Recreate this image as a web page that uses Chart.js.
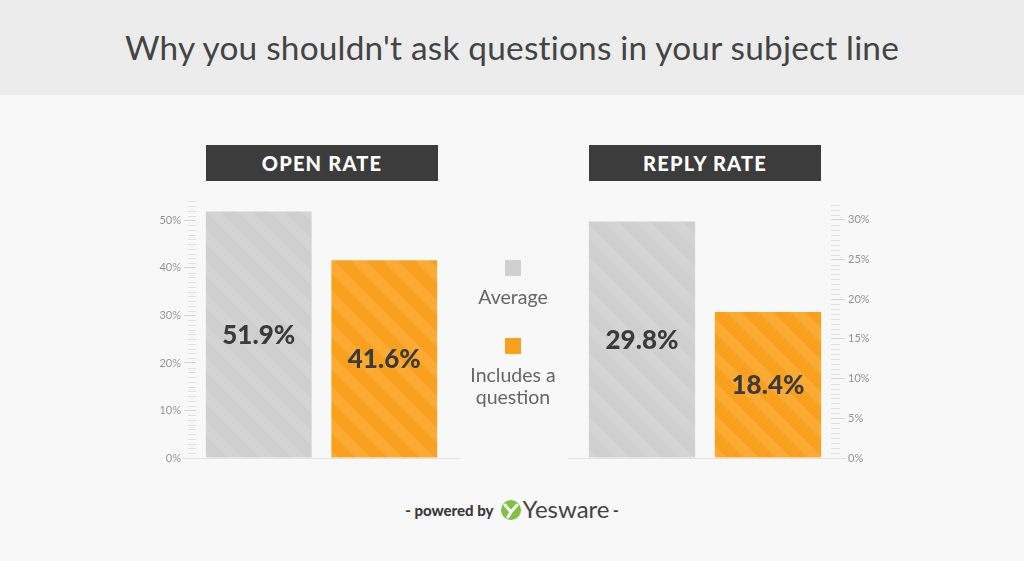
<!DOCTYPE html>
<html>
<head>
<meta charset="utf-8">
<script src="https://cdn.jsdelivr.net/npm/chart.js@4/dist/chart.umd.min.js"></script>
<style>
  body { margin: 0; width: 1024px; height: 561px; overflow: hidden; background: #f9f8f8; font-family: Lato, sans-serif; position: relative; }
  .band { position: absolute; left: 0; top: 0; width: 1024px; height: 95px; background: #ececec; }
  .title { position: absolute; left: 0; top: 0; width: 1024px; line-height: 95px; text-align: center; font-size: 33.4px; color: #444; letter-spacing: 0.2px; }
  .head { position: absolute; top: 145px; width: 232px; height: 36px; line-height: 36px; background: #3c3c3c; color: #fff; text-align: center; font-weight: 900; font-size: 20px; letter-spacing: 1.2px; }
  canvas { position: absolute; }
  .sq { position: absolute; left: 505px; width: 16px; height: 16px; }
  .lg { position: absolute; left: 430px; width: 166px; text-align: center; font-size: 19.5px; color: #666; line-height: 22px; }
  .foot { position: absolute; top: 495px; left: 0; width: 1024px; text-align: center; font-size: 15px; font-weight: 900; color: #3a3a3a; line-height: 28px; }
  .foot svg { vertical-align: -5px; margin: 0 1px 0 6px; }
  .ys { font-size: 24px; font-weight: 400; color: #444; vertical-align: -2px; }
</style>
</head>
<body>
<div class="band"></div>
<div class="title">Why you shouldn't ask questions in your subject line</div>
<div class="head" style="left:206px">OPEN RATE</div>
<div class="head" style="left:589px">REPLY RATE</div>
<canvas id="openChart" width="360" height="290" style="left:120px;top:190px;width:360px;height:290px"></canvas>
<canvas id="replyChart" width="360" height="290" style="left:540px;top:190px;width:360px;height:290px"></canvas>
<div class="sq" style="top:260px;background:#d0d0d0"></div>
<div class="lg" style="top:286px">Average</div>
<div class="sq" style="top:338px;background:#f9a11e"></div>
<div class="lg" style="top:364px">Includes a<br>question</div>
<div class="foot">- powered by<svg width="22" height="22" viewBox="0 0 22 22"><circle cx="11" cy="11" r="10" fill="#7dc242"/><path d="M5 6 L11 13 L17 6 M11 13 L8 18" stroke="#fff" stroke-width="3" fill="none" stroke-linecap="round"/></svg><span class="ys">Yesware</span> -</div>
<script>
const categories = ["Average", "Includes a question"];
const openRate = [51.9, 41.6];
const replyRate = [29.8, 18.4];
const openTicks = [0, 10, 20, 30, 40, 50];
const replyTicks = [0, 5, 10, 15, 20, 25, 30];

// soft diagonal stripes, "\" direction, seamless tile
function stripes(base, stripe) {
  const s = 32, w = 15;
  const c = document.createElement("canvas");
  c.width = c.height = s;
  const g = c.getContext("2d");
  g.fillStyle = base;
  g.fillRect(0, 0, s, s);
  g.fillStyle = stripe;
  for (const k of [-s, 0, s]) {
    g.beginPath();
    g.moveTo(k, 0);
    g.lineTo(k + w, 0);
    g.lineTo(k + w + s, s);
    g.lineTo(k + s, s);
    g.closePath();
    g.fill();
  }
  return g.createPattern(c, "repeat");
}

const grayFill = stripes("#cfcfcf", "#d4d4d4");
const orangeFill = stripes("#f9a11e", "#fbaa33");

// minor ticks, 0% baseline and the value inside each bar
function decor(values, minor, left) {
  return {
    id: "decor",
    beforeDatasetsDraw(chart) {
      const { ctx, chartArea: a } = chart;
      const y = chart.scales.y;
      const major = left ? 10 : 5;
      ctx.save();
      ctx.strokeStyle = "#e0e0e0";
      ctx.lineWidth = 1;
      for (let v = minor; v < y.max; v += minor) {
        if (Math.abs(v / major - Math.round(v / major)) < 0.01) continue;
        const py = Math.round(y.getPixelForValue(v)) + 0.5;
        ctx.beginPath();
        if (left) { ctx.moveTo(a.left - 8, py); ctx.lineTo(a.left, py); }
        else { ctx.moveTo(a.right, py); ctx.lineTo(a.right + 9, py); }
        ctx.stroke();
      }
      const p0 = Math.round(y.getPixelForValue(0)) + 0.5;
      ctx.strokeStyle = "#e2e2e2";
      ctx.beginPath();
      ctx.moveTo(left ? a.left - 13 : a.left - 11, p0);
      ctx.lineTo(left ? a.right + 13 : a.right + 12, p0);
      ctx.stroke();
      ctx.restore();
    },
    afterDatasetsDraw(chart) {
      const ctx = chart.ctx;
      ctx.save();
      ctx.fillStyle = "#3b3b3b";
      ctx.font = "900 26px Lato";
      ctx.textAlign = "center";
      ctx.textBaseline = "middle";
      chart.getDatasetMeta(0).data.forEach((bar, i) => {
        const p = bar.getProps(["x", "y", "base"], true);
        ctx.fillText(values[i].toFixed(1) + "%", p.x, (p.y + p.base) / 2 + 1);
      });
      ctx.restore();
    },
  };
}

function rateChart(id, values, ticks, max, minor, left) {
  return new Chart(document.getElementById(id), {
    type: "bar",
    data: {
      labels: categories,
      datasets: [
        {
          data: values,
          backgroundColor: [grayFill, orangeFill],
          borderWidth: 0,
          barPercentage: 0.843,
          categoryPercentage: 1,
        },
      ],
    },
    options: {
      responsive: false,
      animation: false,
      events: [],
      layout: { padding: left ? { top: 10, bottom: 22, left: 0, right: 33 } : { top: 10, bottom: 22, left: 39, right: 0 } },
      plugins: { legend: { display: false }, tooltip: { enabled: false } },
      scales: {
        x: { display: false },
        y: {
          position: left ? "left" : "right",
          min: 0,
          max: max,
          afterBuildTicks: (s) => { s.ticks = ticks.map((v) => ({ value: v })); },
          afterFit: (s) => { s.width = left ? 76 : 69; },
          border: { display: false },
          grid: { drawOnChartArea: false, tickLength: left ? 12 : 14, color: "#d6d6d6" },
          ticks: { padding: 3, color: "#939393", font: { family: "Lato", size: 11 }, callback: (v) => v + "%" },
        },
      },
    },
    plugins: [decor(values, minor, left)],
  });
}

rateChart("openChart", openRate, openTicks, 54.3, 1, true);
rateChart("replyChart", replyRate, replyTicks, 32.5, 0.625, false);
</script>
</body>
</html>
